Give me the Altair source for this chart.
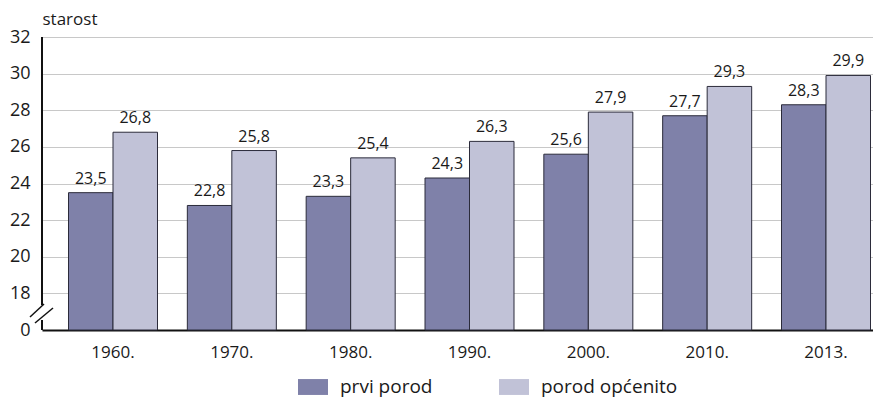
import altair as alt
import pandas as pd

years = ["1960.", "1970.", "1980.", "1990.", "2000.", "2010.", "2013."]
prvi = [23.5, 22.8, 23.3, 24.3, 25.6, 27.7, 28.3]
opcenito = [26.8, 25.8, 25.4, 26.3, 27.9, 29.3, 29.9]
series = ["prvi porod", "porod općenito"]
colors = ["#7F81A9", "#C1C2D7"]
y_ticks = [16, 18, 20, 22, 24, 26, 28, 30, 32]

rows = []
for i, yr in enumerate(years):
    for s, vals in zip(series, [prvi, opcenito]):
        v = vals[i]
        rows.append({"godina": yr, "serija": s, "vrijednost": v,
                     "oznaka": f"{v:.1f}".replace(".", ",")})
df = pd.DataFrame(rows)

FONT = "Open Sans"

x_enc = alt.X("godina:N", sort=years,
              scale=alt.Scale(paddingInner=0.251, paddingOuter=0.122, align=0.914),
              axis=alt.Axis(title=None, labelAngle=0, ticks=False, domain=True,
                            domainColor="#111111", domainWidth=2,
                            labelFontSize=17, labelColor="#1a1a1a", labelPadding=14,
                            grid=False))
xo_enc = alt.XOffset("serija:N", sort=series,
                     scale=alt.Scale(paddingInner=0, paddingOuter=0))
y_scale = alt.Scale(domain=[16, 32], zero=False, nice=False)
y_axis = alt.Axis(values=y_ticks, tickCount=40, labelOverlap=False,
                  domain=False, ticks=False,
                  labelExpr="datum.value == 16 ? '0' : datum.value",
                  labelFontSize=18, labelColor="#1a1a1a", labelPadding=12,
                  grid=True, gridColor="#C8C8C8", gridWidth=1,
                  title="starost", titleAngle=0, titleAlign="left",
                  titleBaseline="alphabetic", titleX=0, titleY=-13,
                  titleFontSize=17, titleFontWeight="normal",
                  titleColor="#1a1a1a")
y_enc = alt.Y("vrijednost:Q", scale=y_scale, axis=y_axis)

bars = alt.Chart(df).mark_bar(stroke="#2B2B3A", strokeWidth=1).encode(
    x=x_enc, xOffset=xo_enc, y=y_enc, y2=alt.datum(16),
    color=alt.Color("serija:N", sort=series,
                    scale=alt.Scale(domain=series, range=colors),
                    legend=alt.Legend(title=None, orient="none", direction="horizontal",
                                      legendX=256, legendY=335,
                                      symbolType="M-1,-0.53H1V0.53H-1Z", symbolSize=900,
                                      symbolStrokeWidth=0, symbolOpacity=1,
                                      labelFontSize=19, labelColor="#1a1a1a",
                                      labelOffset=12, columnPadding=66)),
)

labels = alt.Chart(df).mark_text(baseline="alphabetic", dy=-9, fontSize=16,
                                 color="#1a1a1a", font=FONT).encode(
    x=alt.X("godina:N", sort=years), xOffset=alt.XOffset("serija:N", sort=series),
    y=alt.Y("vrijednost:Q", scale=y_scale, axis=y_axis), text="oznaka:N")

one = pd.DataFrame({"k": [0]})


def seg(y1, y2, x1, x2=None, width=2.0):
    enc = dict(x=alt.value(x1),
               y=alt.YDatum(y1, scale=y_scale, axis=y_axis),
               y2=alt.datum(y2))
    if x2 is not None:
        enc["x2"] = alt.value(x2)
    return alt.Chart(one).mark_rule(color="#111111", strokeWidth=width).encode(**enc)


axis_top = seg(32, 17.37, 0)
axis_bot = seg(16.55, 16, 0)
brk1 = seg(16.71, 17.42, -12, 2, 1.5)
brk2 = seg(16.38, 17.2, -7, 11, 1.5)

chart = alt.layer(bars, labels, axis_top, axis_bot, brk1, brk2).properties(
    width=831, height=293,
    autosize=alt.AutoSizeParams(type="none"),
    padding={"left": 34, "top": 29, "right": 0, "bottom": 69},
).configure(font=FONT).configure_view(stroke=None)

chart.save("out.html", embed_options={"renderer": "svg", "actions": False})
